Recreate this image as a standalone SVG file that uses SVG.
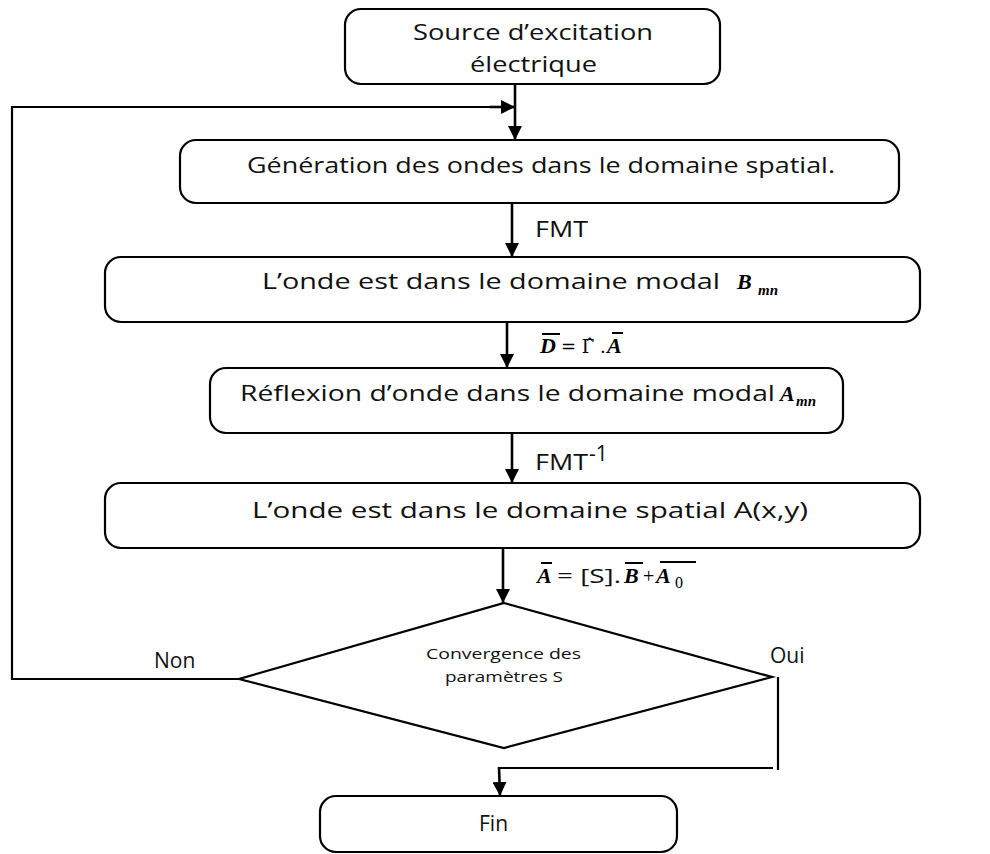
<svg xmlns="http://www.w3.org/2000/svg" width="990" height="854" viewBox="0 0 990 854">
<defs>
<marker id="ah" markerUnits="userSpaceOnUse" markerWidth="14" markerHeight="14" viewBox="0 0 14 14" refX="14" refY="7" orient="auto">
<path d="M0,0 L14,7 L0,14 Z" fill="#000"/>
</marker>
<style>
.box{fill:#fff;stroke:#000;stroke-width:2.2}
.t{font-family:"Open Sans","Liberation Sans",sans-serif;font-size:21px;fill:#111}
.s{font-family:"Open Sans","Liberation Sans",sans-serif;font-size:15px;fill:#111}
.m{font-family:"Liberation Serif",serif;font-style:italic;font-weight:bold;font-size:22px;fill:#000}
.ms{font-family:"Liberation Serif",serif;font-style:italic;font-weight:bold;font-size:15px;fill:#000}
.c{fill:none;stroke:#000;stroke-width:2.2}
.ca{fill:none;stroke:#000;stroke-width:2.6;marker-end:url(#ah)}
.bar{stroke:#000;stroke-width:2}
</style>
</defs>
<rect width="990" height="854" fill="#fff"/>
<g id="connectors">
<line class="ca" x1="515" y1="84" x2="515" y2="140"/>
<polyline class="c" points="240,679 12,679 12,107 503,107"/>
<line class="ca" x1="490" y1="107" x2="515" y2="107"/>
<line class="ca" x1="512" y1="203" x2="512" y2="257"/>
<line class="ca" x1="507" y1="322" x2="507" y2="368"/>
<line class="ca" x1="512" y1="433" x2="512" y2="483"/>
<line class="ca" x1="503" y1="548" x2="503" y2="603"/>
<polyline class="c" points="778,677 778,770"/>
<polyline class="c" points="773,768 499,768"/>
<line class="ca" x1="499" y1="767" x2="500" y2="796"/>
<text class="t" x="535" y="237" textLength="53" lengthAdjust="spacingAndGlyphs">FMT</text>
<text class="t" x="535" y="470" textLength="53" lengthAdjust="spacingAndGlyphs">FMT</text>
<text class="t" x="589" y="461" font-size="13">-1</text>
<text class="m" x="540" y="353">D</text>
<line class="bar" x1="542" y1="334" x2="560" y2="334"/>
<text x="561" y="353" font-family="DejaVu Serif,serif" font-size="18">= Γ̂ .</text>
<text class="m" x="607" y="353">A</text>
<line class="bar" x1="612" y1="333" x2="623" y2="333"/>
<text class="m" x="537" y="583">A</text>
<line class="bar" x1="541" y1="563" x2="552" y2="563"/>
<text x="557" y="583" font-family="Open Sans,Liberation Sans,sans-serif" font-size="20" fill="#111" textLength="64" lengthAdjust="spacingAndGlyphs">= [S].</text>
<text class="m" x="624" y="583">B</text>
<line class="bar" x1="625" y1="563" x2="643" y2="563"/>
<text x="643" y="583" font-family="Liberation Serif,serif" font-size="20">+</text>
<text class="m" x="656" y="583">A</text>
<text x="675" y="588" font-family="Liberation Serif,serif" font-size="16" fill="#000">0</text>
<line class="bar" x1="660" y1="562" x2="696" y2="562"/>
<text class="t" x="154" y="668" font-size="20">Non</text>
<text class="t" x="770" y="663" font-size="20">Oui</text>
</g>
<g id="n1">
<rect class="box" x="345" y="9" width="375" height="75" rx="16"/>
<text class="t" x="413" y="40" textLength="240" lengthAdjust="spacingAndGlyphs">Source d’excitation</text>
<text class="t" x="470" y="72" textLength="127" lengthAdjust="spacingAndGlyphs">électrique</text>
</g>
<g id="n2">
<rect class="box" x="180" y="140" width="719" height="63" rx="16"/>
<text class="t" x="247" y="173" textLength="588" lengthAdjust="spacingAndGlyphs">Génération des ondes dans le domaine spatial.</text>
</g>
<g id="n3">
<rect class="box" x="105" y="257" width="815" height="65" rx="16"/>
<text class="t" x="262" y="289" textLength="458" lengthAdjust="spacingAndGlyphs">L’onde est dans le domaine modal</text>
<text class="m" x="737" y="289">B</text>
<text class="ms" x="758" y="295">mn</text>
</g>
<g id="n4">
<rect class="box" x="210" y="368" width="633" height="65" rx="16"/>
<text class="t" x="240" y="401" textLength="535" lengthAdjust="spacingAndGlyphs">Réflexion d’onde dans le domaine modal</text>
<text class="m" x="780" y="401">A</text>
<text class="ms" x="796" y="406">mn</text>
</g>
<g id="n5">
<rect class="box" x="105" y="483" width="815" height="65" rx="16"/>
<text class="t" x="252" y="518" textLength="556" lengthAdjust="spacingAndGlyphs">L’onde est dans le domaine spatial A(x,y)</text>
</g>
<g id="n6">
<polygon class="box" points="504,603 772,677 504,748 239,679"/>
<text class="s" x="426" y="659" textLength="155" lengthAdjust="spacingAndGlyphs">Convergence des</text>
<text class="s" x="445" y="682" textLength="118" lengthAdjust="spacingAndGlyphs">paramètres S</text>
</g>
<g id="n7">
<rect class="box" x="320" y="796" width="357" height="56" rx="16"/>
<text class="t" x="479" y="831">Fin</text>
</g>
</svg>
